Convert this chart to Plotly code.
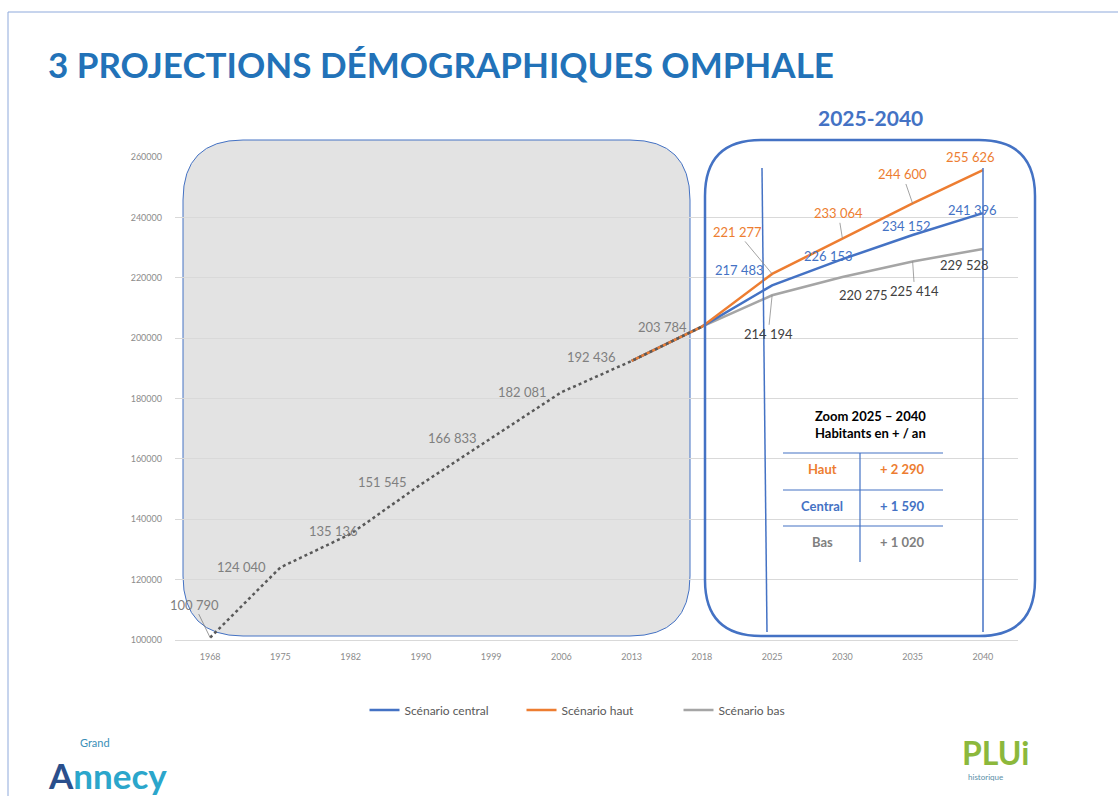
import plotly.graph_objects as go

# ---------------- data ----------------
years = ["1968", "1975", "1982", "1990", "1999", "2006", "2013", "2018",
         "2025", "2030", "2035", "2040"]
hist_years = ["1968", "1975", "1982", "1990", "1999", "2006", "2013", "2018"]
hist_values = [100790, 124040, 135136, 151545, 166833, 182081, 192436, 203784]

proj_years = ["2013", "2018", "2025", "2030", "2035", "2040"]
central = [192436, 203784, 217483, 226153, 234152, 241396]
haut = [192436, 203784, 221277, 233064, 244600, 255626]
bas = [192436, 203784, 214194, 220275, 225414, 229528]

table_rows = ["Haut", "Central", "Bas"]
table_vals = ["+ 2 290", "+ 1 590", "+ 1 020"]

# ---------------- layout helpers (pixels -> paper) ----------------
W, H = 1118, 796
L, R, T, B = 175, 100, 157, 156
PW, PH = W - L - R, H - T - B


def px(x):
    return (x - L) / PW


def py(y):
    return (H - B - y) / PH


def rrect(x0, y0, x1, y1, r):
    rx, ry = r / PW, r / PH
    X0, X1 = px(x0), px(x1)
    Y0, Y1 = py(y1), py(y0)  # bottom, top in paper
    return (f"M {X0+rx},{Y1} L {X1-rx},{Y1} Q {X1},{Y1} {X1},{Y1-ry} "
            f"L {X1},{Y0+ry} Q {X1},{Y0} {X1-rx},{Y0} L {X0+rx},{Y0} "
            f"Q {X0},{Y0} {X0},{Y0+ry} L {X0},{Y1-ry} Q {X0},{Y1} {X0+rx},{Y1} Z")


def cat(yr):
    return years.index(yr)


BLUE = "#4472C4"
ORANGE = "#ED7D31"
GREY = "#A5A5A5"
FONT = "Lato"

fig = go.Figure()

fig.add_trace(go.Scatter(x=proj_years, y=bas, mode="lines", name="Scénario bas",
                         line=dict(color=GREY, width=2.5)))
fig.add_trace(go.Scatter(x=proj_years, y=central, mode="lines", name="Scénario central",
                         line=dict(color=BLUE, width=2.5)))
fig.add_trace(go.Scatter(x=proj_years, y=haut, mode="lines", name="Scénario haut",
                         line=dict(color=ORANGE, width=2.5)))
fig.add_trace(go.Scatter(x=hist_years, y=hist_values, mode="lines", showlegend=False,
                         line=dict(color="#595959", width=2.5, dash="dot")))

# ---------------- data labels ----------------
ann = []


def label(yr, v, dx, dy, arrow, col, acol):
    txt = f"{v:,}".replace(",", " ")
    f = dict(family=FONT, size=13, color=col)
    if arrow:
        return dict(x=cat(yr), y=v, xref="x", yref="y", text=txt, showarrow=True,
                    ax=dx, ay=dy, arrowhead=0, arrowwidth=0.8, arrowcolor=acol, font=f)
    return dict(x=cat(yr), y=v, xref="x", yref="y", text=txt, showarrow=False,
                xshift=dx, yshift=-dy, font=f)


hist_offsets = [(-16, -33, True), (-39, 0, False), (-17, -3, False), (-38, -2, False),
                (-39, 0, False), (-39, 0, False), (-40, -4, False), (-39, 0, False)]
for yr, v, (dx, dy, arrow) in zip(hist_years, hist_values, hist_offsets):
    ann.append(label(yr, v, dx, dy, arrow, "#7f7f7f", "#7f7f7f"))

proj_labels = [
    (central, BLUE, [(-33, -15, False), (-14, -3, False), (-6, -9, False), (-10, -3, False)]),
    (haut, ORANGE, [(-35, -42, True), (-4, -25, True), (-10, -29, True), (-12, -13, False)]),
    (bas, "#404040", [(-4, 39, True), (21, 18, False), (2, 30, True), (-18, 16, False)]),
]
for series, col, offs in proj_labels:
    for yr, v, (dx, dy, arrow) in zip(proj_years[2:], series[2:], offs):
        ann.append(label(yr, v, dx, dy, arrow, col, "#8c8c8c"))


def ptext(x, y, text, size, color, xanchor="center", align="center"):
    return dict(x=px(x), y=py(y), xref="paper", yref="paper", xanchor=xanchor,
                yanchor="middle", showarrow=False, text=text, align=align,
                font=dict(family=FONT, size=size, color=color))


# ---------------- titles ----------------
ann.append(ptext(46, 64, "<b>3 PROJECTIONS DÉMOGRAPHIQUES OMPHALE</b>", 35, "#2272B8",
                 xanchor="left"))
ann.append(ptext(870, 118, "<b>2025-2040</b>", 21, BLUE))

# ---------------- table ----------------
ann.append(ptext(870, 424, "<b>Zoom 2025 – 2040</b><br><b>Habitants en + / an</b>", 13,
                 "#000000"))
row_y = [469, 506, 542]
row_col = [ORANGE, BLUE, "#7f7f7f"]
for name, val, yy, c in zip(table_rows, table_vals, row_y, row_col):
    ann.append(ptext(822, yy, f"<b>{name}</b>", 13, c))
    ann.append(ptext(902, yy, f"<b>{val}</b>", 13, c))

# ---------------- logos (as text) ----------------
ann.append(ptext(78, 742, "Grand", 11, "#3A8FB7", xanchor="left"))
ann.append(ptext(46, 775, "<b><span style='color:#2A4F8C'>A</span>nnecy</b>", 35,
                 "#2BA6CB", xanchor="left"))
ann.append(ptext(960, 752, "<b>PLUi</b>", 32, "#8CB83C", xanchor="left"))
ann.append(ptext(966, 777, "historique", 8, "#5a8fa8", xanchor="left"))

# ---------------- shapes ----------------
shapes = [
    # slide border
    dict(type="line", xref="paper", yref="paper", x0=px(8), y0=py(12), x1=px(1118), y1=py(12),
         line=dict(color="#8EA9DB", width=1)),
    dict(type="line", xref="paper", yref="paper", x0=px(8), y0=py(12), x1=px(8), y1=py(796),
         line=dict(color="#8EA9DB", width=1)),
    # grey historic box
    dict(type="path", xref="paper", yref="paper", path=rrect(183, 140, 690, 636, 60),
         fillcolor="#E3E3E3", line=dict(color=BLUE, width=1), layer="between"),
    # projection box
    dict(type="path", xref="paper", yref="paper", path=rrect(705, 140, 1035, 636, 56),
         fillcolor="rgba(0,0,0,0)", line=dict(color=BLUE, width=2.5), layer="above"),
    # vertical markers
    dict(type="line", xref="paper", yref="paper", x0=px(762), y0=py(168), x1=px(767), y1=py(632),
         line=dict(color=BLUE, width=1.5)),
    dict(type="line", xref="paper", yref="paper", x0=px(983), y0=py(168), x1=px(983), y1=py(632),
         line=dict(color=BLUE, width=1.5)),
]
for yy in [453, 490, 526]:
    shapes.append(dict(type="line", xref="paper", yref="paper", x0=px(783), y0=py(yy),
                       x1=px(943), y1=py(yy), line=dict(color=BLUE, width=1.2)))
shapes.append(dict(type="line", xref="paper", yref="paper", x0=px(860), y0=py(453),
                   x1=px(860), y1=py(562), line=dict(color=BLUE, width=1.2)))

fig.update_layout(
    width=W, height=H,
    margin=dict(l=L, r=R, t=T, b=B, pad=0),
    paper_bgcolor="white", plot_bgcolor="white",
    font=dict(family=FONT, color="#595959"),
    xaxis=dict(type="category", categoryorder="array", categoryarray=years,
               range=[-0.5, len(years) - 0.5], showgrid=False, zeroline=False,
               showline=True, linecolor="#d9d9d9", linewidth=1, ticks="",
               tickfont=dict(family=FONT, size=9, color="#8c8c8c"), ticklabelstandoff=8),
    yaxis=dict(range=[100000, 260000], dtick=20000, tickformat="d", showgrid=True,
               gridcolor="#d9d9d9", gridwidth=1, zeroline=False, showline=False,
               tickfont=dict(family=FONT, size=9, color="#8c8c8c"), ticklabelstandoff=12),
    legend=dict(orientation="h", x=px(600), y=py(710), xanchor="center", yanchor="middle",
                font=dict(family=FONT, size=12, color="#595959"),
                traceorder="normal", itemwidth=30, entrywidth=112),
    annotations=ann,
    shapes=shapes,
)

# legend order: central, haut, bas
fig.data[0].legendrank = 3
fig.data[1].legendrank = 1
fig.data[2].legendrank = 2

fig.write_html("out.html", config={"displayModeBar": False},
               post_script="document.body.style.margin='0px';")
